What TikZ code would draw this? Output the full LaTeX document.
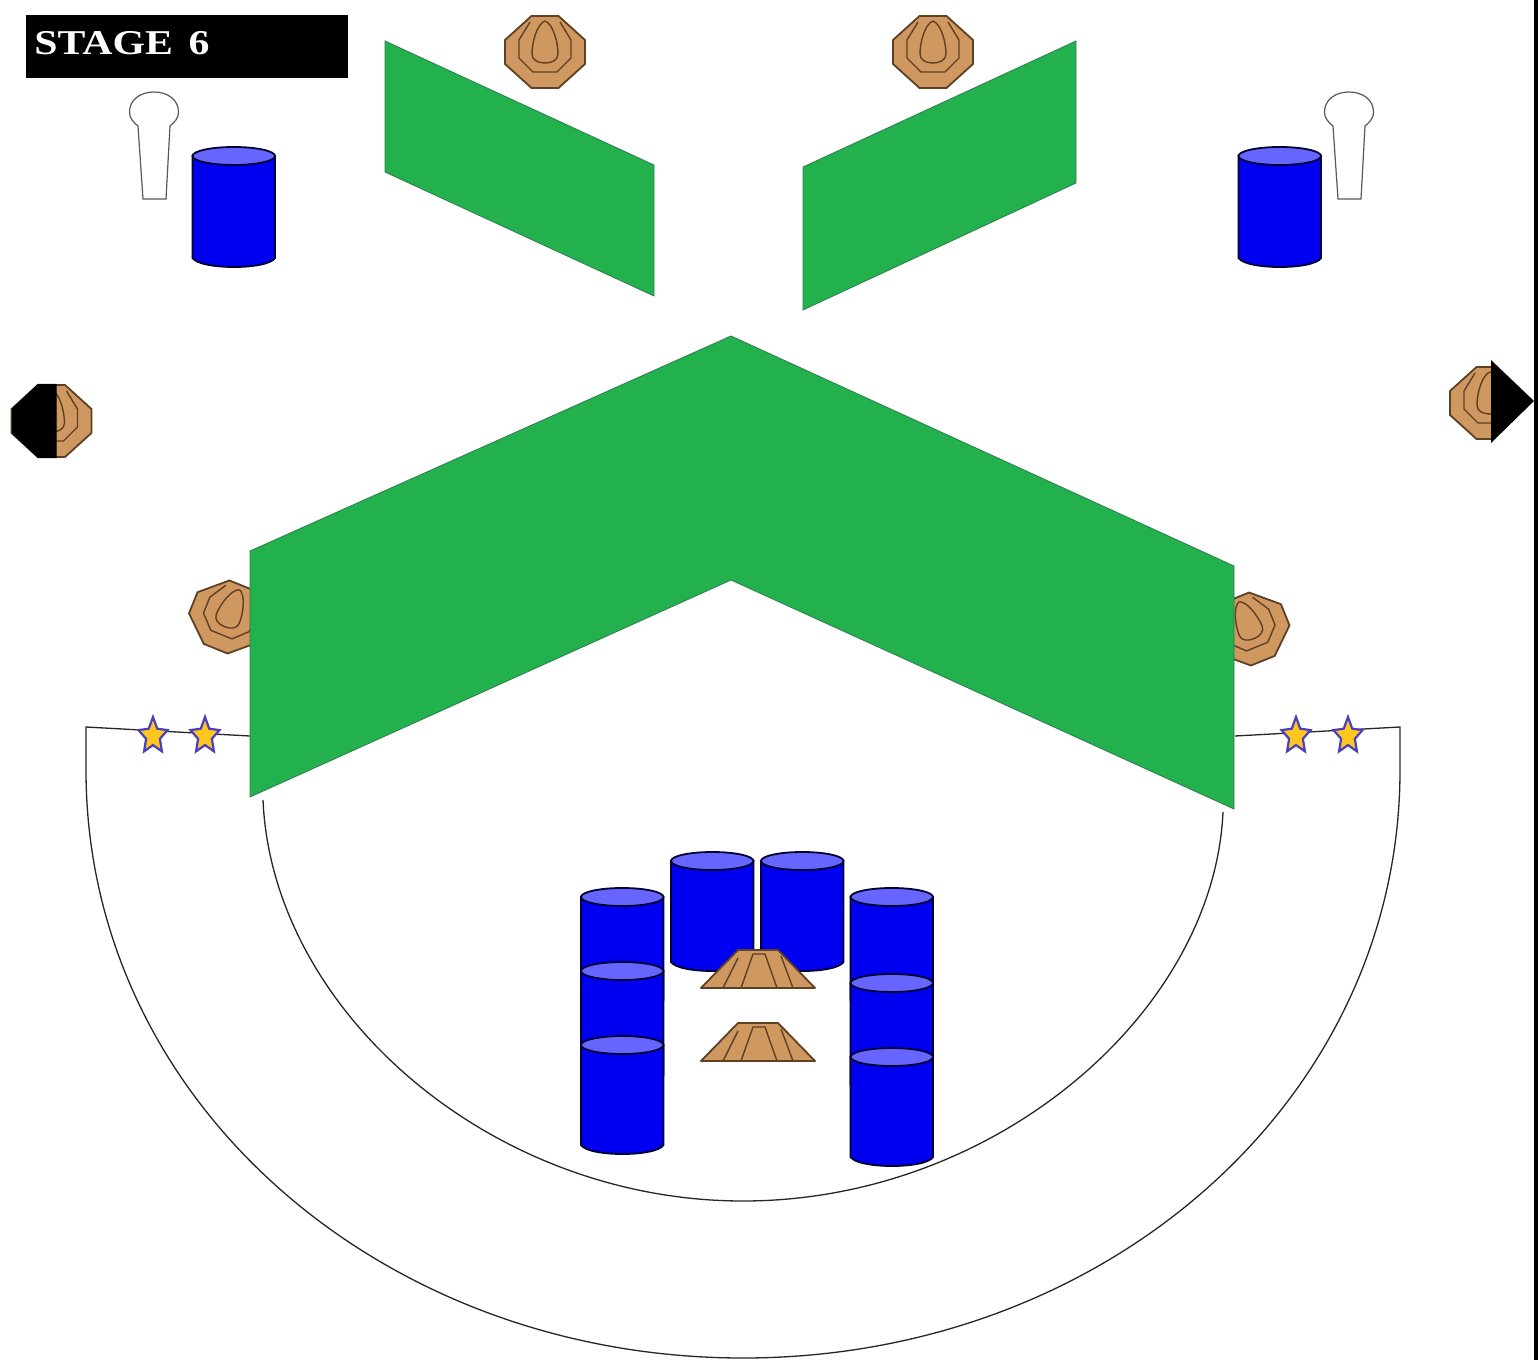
\documentclass[tikz,border=0pt]{standalone}
\usepackage{fontspec}
\usepackage{graphicx}
\setmainfont{Liberation Serif}
\usetikzlibrary{shapes.geometric}
\definecolor{panelgreen}{HTML}{22B14C}
\definecolor{paneledge}{HTML}{2E7D4F}
\definecolor{barrelblue}{HTML}{0000F0}
\definecolor{barreltop}{HTML}{6666FF}
\definecolor{steelbrown}{HTML}{CF9860}
\definecolor{steelline}{HTML}{5E4024}
\definecolor{starfill}{HTML}{FFC61E}
\definecolor{staredge}{HTML}{4A3FC0}
\tikzset{
  panel/.style={fill=panelgreen,draw=paneledge,line width=0.4pt,line join=miter},
  barrelbody/.style={fill=barrelblue,draw=black!80!blue,line width=0.9pt},
  barrelcap/.style={fill=barreltop,draw=black!80!blue,line width=0.9pt},
  steelplate/.style={fill=steelbrown,draw=steelline,line width=0.9pt,line join=round},
  steelring/.style={draw=steelline,line width=0.7pt,line join=round},
  popper/.style={fill=white,draw=black!65,line width=0.6pt},
  fault/.style={draw=black!85,line width=0.65pt},
  starmark/.style={star,star points=5,star point ratio=2.1,inner sep=0pt,minimum size=19pt,fill=starfill,draw=staredge,line width=1.1pt,xscale=0.8,transform shape}
}
% x, top-ellipse centre y, bottom y (side end)
\newcommand{\barrelat}[3]{%
  \path[barrelbody] (#1,#2) -- (#1,#3) .. controls (#1+8,#3+12) and (#1+75,#3+12) .. (#1+82.5,#3) -- (#1+82.5,#2) -- cycle;
  \path[barrelcap] (#1+41.25,#2) ellipse [x radius=41.25,y radius=9];
}
\newcommand{\plateshape}{(-13.5,-36) -- (13.5,-36) -- (40,-12) -- (40,12) -- (13.5,36) -- (-13.5,36) -- (-40,12) -- (-40,-12) -- cycle}
\newcommand{\platerings}{%
  \draw[steelring] (-15,-30) -- (-26,-12) -- (-26,6) -- (-12,20) -- (12,20) -- (26,6) -- (26,-12) -- (15,-30);
  \draw[steelring] (0,-31) .. controls (-8,-28) and (-13,-10) .. (-13,2) .. controls (-13,8) and (-7,11) .. (0,11) .. controls (7,11) and (13,8) .. (13,2) .. controls (13,-10) and (8,-28) .. (0,-31);
}
% x, y, rotation, scale
\newcommand{\plateat}[4]{%
  \begin{scope}[shift={(#1,#2)},rotate=#3,scale=#4]
    \path[steelplate] \plateshape;
    \platerings
  \end{scope}
}
% base y of the fallen plate
\newcommand{\fallenat}[1]{%
  \path[steelplate] (701,#1) -- (738,#1-38) -- (778,#1-38) -- (815,#1) -- cycle;
  \draw[steelring] (723,#1) -- (738,#1-30);
  \draw[steelring] (741,#1) -- (753,#1-34) -- (765,#1-34) -- (777,#1);
  \draw[steelring] (793,#1) -- (781,#1-32);
}
\newcommand{\popperat}[1]{%
  \path[popper] (#1-11,199) -- (#1-16,126) .. controls (#1-21,122) and (#1-24.5,118) .. (#1-24.5,112)
    .. controls (#1-24.5,100) and (#1-14,92) .. (#1,92) .. controls (#1+14,92) and (#1+24.5,100) .. (#1+24.5,112)
    .. controls (#1+24.5,118) and (#1+21,122) .. (#1+16,126) -- (#1+12,199) -- cycle;
}
\begin{document}
\begin{tikzpicture}[x=0.5pt,y=-0.5pt]
\useasboundingbox (0,0) rectangle (1538,1360);
\fill[white] (0,0) rectangle (1538,1360);

% title
\node[fill=black,minimum width=161pt,minimum height=31.5pt,inner sep=0pt,anchor=north west] (titlebar) at (26,15) {};
\node[text=white,font=\bfseries\fontsize{17.4pt}{18pt}\selectfont,anchor=west,inner sep=0pt] (title) at (34,43) {\scalebox{1.2}[1]{STAGE\hspace{2.2pt} 6}};

% poppers and barrels, top
\popperat{154}
\popperat{1349}
\barrelat{192.5}{156}{258}
\barrelat{1238.5}{156}{258}

% steel plates
\plateat{545}{52}{0}{1}
\plateat{933}{52}{0}{1}
\plateat{228.5}{617}{-22}{0.95}
\plateat{1250}{629}{22}{0.95}

% half-hidden plates
\plateat{51.5}{421}{0}{1}
\path[fill=black,draw=black,line width=0.6pt] (56,384.5) -- (38,384.5) -- (12.5,409) -- (12.5,433) -- (38,457.5) -- (56,457.5) -- cycle;
\begin{scope}
  \clip (1400,340) rectangle (1491,460);
  \plateat{1490}{403}{0}{1}
\end{scope}
\fill[black] (1491,360) -- (1534,401) -- (1491,443) -- cycle;

% fault lines
\coordinate (olstart) at (86,727);
\coordinate (olknee) at (250,736);
\coordinate (orstart) at (1400,727);
\coordinate (orknee) at (1235,736);
\coordinate (olside) at (86,770);
\coordinate (orside) at (1400,770);
\coordinate (obottom) at (743,1358);
\coordinate (ilstart) at (263,800);
\coordinate (irstart) at (1223,812);
\coordinate (ibottom) at (743,1201);
\draw[fault] (olknee) -- (olstart) -- (olside) .. controls (86,1100) and (380,1358) .. (obottom)
  .. controls (1106,1358) and (1400,1100) .. (orside) -- (orstart) -- (orknee);
\draw[fault] (ilstart) .. controls (272,1010) and (490,1201) .. (ibottom)
  .. controls (996,1201) and (1214,1012) .. (irstart);

% stars
\node[starmark] (s1) at (153,736) {};
\node[starmark] (s2) at (205,736) {};
\node[starmark] (s3) at (1296,736) {};
\node[starmark] (s4) at (1348,736) {};

% green panels
\path[panel] (385,41) -- (654,165) -- (654,296) -- (385,172) -- cycle;
\path[panel] (803,167) -- (1076,41) -- (1076,183) -- (803,310) -- cycle;
\path[panel] (731,336) -- (1234,566) -- (1234,809) -- (731,580) -- (250,797) -- (250,551) -- cycle;

% central barrels
\barrelat{671}{861}{962}
\barrelat{761}{861}{962}
\barrelat{581}{897}{1000}
\barrelat{581}{971}{1075}
\barrelat{581}{1045}{1145}
\barrelat{850.5}{897}{1000}
\barrelat{850.5}{983}{1085}
\barrelat{850.5}{1057}{1157}

% fallen plates
\fallenat{988}
\fallenat{1061}

% right margin line
\fill[black] (1534,0) rectangle (1538,1360);
\end{tikzpicture}
\end{document}
